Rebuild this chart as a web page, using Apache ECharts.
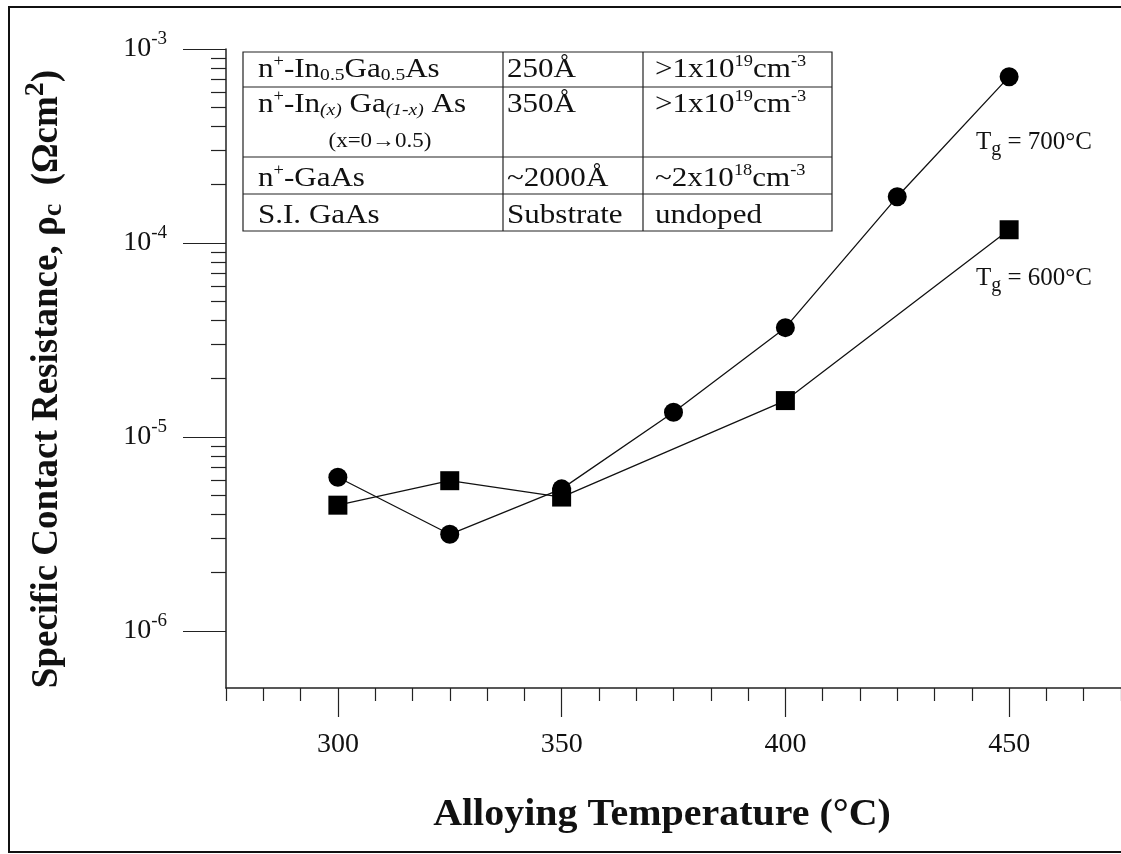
<!DOCTYPE html>
<html>
<head>
<meta charset="utf-8">
<script src="https://cdn.jsdelivr.net/npm/echarts@6/dist/echarts.min.js"></script>
<style>
html,body{margin:0;padding:0;background:#fff;}
#chart{width:1121px;height:854px;}
</style>
</head>
<body>
<div id="chart"></div>
<script>
// alloying temperature (C) vs specific contact resistance (ohm cm2)
var tempTg700 = [300, 325, 350, 375, 400, 425, 450];
var rhoTg700 = [6.2e-6, 3.15e-6, 5.4e-6, 1.34e-5, 3.66e-5, 1.73e-4, 7.2e-4];
var tempTg600 = [300, 325, 350, 400, 450];
var rhoTg600 = [4.45e-6, 5.95e-6, 4.9e-6, 1.54e-5, 1.17e-4];

var xMajorTicks = [300, 350, 400, 450];
var yMajorTicks = [1e-6, 1e-5, 1e-4, 1e-3];

// layer structure table
var layerNames = [
    'n{sup|+}-In{sub|0.5}Ga{sub|0.5}As',
    'n{sup|+}-In{subi|(x)} Ga{subi|(1-x)} As',
    'n{sup|+}-GaAs',
    'S.I. GaAs'
];
var layerThick = ['250Å', '350Å', '~2000Å', 'Substrate'];
var layerDoping = [
    '>1x10{sup|19}cm{sup|-3}',
    '>1x10{sup|19}cm{sup|-3}',
    '~2x10{sup|18}cm{sup|-3}',
    'undoped'
];

var FONT = '"Liberation Serif", "Times New Roman", serif';

// minor ticks (axis decoration only)
var xMinorTicks = [];
for (var i = 0; i <= 24; i++) {
    var v = 275 + i * 50 / 6;
    if (i % 6 !== 3) xMinorTicks.push(Math.round(v * 1000) / 1000);
}
var yMinorTicks = [];
for (var e = -6; e <= -4; e++) {
    for (var k = 2; k <= 9; k++) yMinorTicks.push(k * Math.pow(10, e));
}

function pairs(xs, ys) {
    var out = [];
    for (var i = 0; i < xs.length; i++) out.push([xs[i], ys[i]]);
    return out;
}

var richTbl = {
    sup: {fontSize: 16, fontFamily: FONT, fill: '#111', padding: [0, 0, 17, 0]},
    sub: {fontSize: 17, fontFamily: FONT, fill: '#111', padding: [11, 0, 0, 0]},
    subi: {fontSize: 17, fontFamily: FONT, fontStyle: 'italic', fill: '#111', padding: [11, 0, 0, 0]}
};

// table geometry
var colX = [243, 503, 643, 832];
var rowY = [52, 87, 157, 194, 231];
var textX = [258, 507, 655];
var textY = [70, 105, 179, 216];

var graphics = [];
// outer frame
graphics.push({
    type: 'rect', silent: true,
    shape: {x: 9, y: 7, width: 1130, height: 845},
    style: {fill: null, stroke: '#111', lineWidth: 2}
});
// table lines
graphics.push({
    type: 'rect', silent: true,
    shape: {x: colX[0], y: rowY[0], width: colX[3] - colX[0], height: rowY[4] - rowY[0]},
    style: {fill: '#fff', stroke: '#222', lineWidth: 1.2}
});
for (var r = 1; r < 4; r++) {
    graphics.push({type: 'line', silent: true,
        shape: {x1: colX[0], y1: rowY[r], x2: colX[3], y2: rowY[r]},
        style: {stroke: '#222', lineWidth: 1.2}});
}
for (var c = 1; c < 3; c++) {
    graphics.push({type: 'line', silent: true,
        shape: {x1: colX[c], y1: rowY[0], x2: colX[c], y2: rowY[4]},
        style: {stroke: '#222', lineWidth: 1.2}});
}
var cols = [layerNames, layerThick, layerDoping];
for (var c2 = 0; c2 < 3; c2++) {
    for (var r2 = 0; r2 < 4; r2++) {
        graphics.push({
            type: 'text', silent: true, x: textX[c2], y: textY[r2], scaleX: 1.15,
            style: {text: cols[c2][r2], fontSize: 27, fontFamily: FONT, fill: '#111',
                align: 'left', verticalAlign: 'middle', rich: richTbl}
        });
    }
}
graphics.push({
    type: 'text', silent: true, x: 380, y: 142, scaleX: 1.15,
    style: {text: '(x=0→0.5)', fontSize: 20, fontFamily: FONT, fill: '#111',
        align: 'center', verticalAlign: 'middle'}
});

// series labels
var richTg = {
    sub: {fontSize: 20, fontFamily: FONT, fill: '#111', padding: [15, 0, 0, 0]}
};
graphics.push({
    type: 'text', silent: true, x: 976, y: 142,
    style: {text: 'T{sub|g} = 700°C', fontSize: 25, fontFamily: FONT, fill: '#111',
        align: 'left', verticalAlign: 'middle', rich: richTg}
});
graphics.push({
    type: 'text', silent: true, x: 976, y: 278,
    style: {text: 'T{sub|g} = 600°C', fontSize: 25, fontFamily: FONT, fill: '#111',
        align: 'left', verticalAlign: 'middle', rich: richTg}
});

// axis titles
graphics.push({
    type: 'text', silent: true, x: 662, y: 815, scaleX: 1.08,
    style: {text: 'Alloying Temperature (°C)', fontSize: 37, fontWeight: 'bold',
        fontFamily: FONT, fill: '#111', align: 'center', verticalAlign: 'middle'}
});
graphics.push({
    type: 'text', silent: true, x: 47, y: 379, rotation: Math.PI / 2,
    style: {text: 'Specific Contact Resistance, ρ{sb|c}  (Ωcm{sp|2})', fontSize: 37, fontWeight: 'bold',
        fontFamily: FONT, fill: '#111', align: 'center', verticalAlign: 'middle',
        rich: {
            sb: {fontSize: 28, fontWeight: 'bold', fontFamily: FONT, fill: '#111', padding: [14, 0, 0, 0]},
            sp: {fontSize: 28, fontWeight: 'bold', fontFamily: FONT, fill: '#111', padding: [0, 0, 22, 0]}
        }}
});

var axisColor = '#222';

var chart = echarts.init(document.getElementById('chart'), null, {renderer: 'canvas'});
var option = {
    backgroundColor: '#fff',
    animation: false,
    grid: {left: 226, right: 0, top: 49, bottom: 166, containLabel: false, outerBoundsMode: 'none'},
    xAxis: [{
        type: 'value', min: 275, max: 475, position: 'bottom',
        axisLine: {show: true, onZero: false, lineStyle: {color: axisColor, width: 1.5}},
        axisTick: {show: true, customValues: xMajorTicks, length: 29, lineStyle: {color: axisColor, width: 1.2}},
        axisLabel: {show: true, customValues: xMajorTicks, margin: 43, fontSize: 28, fontFamily: FONT, color: '#111'},
        splitLine: {show: false}
    }, {
        type: 'value', min: 275, max: 475, position: 'bottom',
        axisLine: {show: false, onZero: false},
        axisTick: {show: true, customValues: xMinorTicks, length: 13, lineStyle: {color: axisColor, width: 1.2}},
        axisLabel: {show: false},
        splitLine: {show: false}
    }],
    yAxis: [{
        type: 'log', logBase: 10, min: 5.08e-7, max: 1e-3, position: 'left',
        axisLine: {show: true, onZero: false, lineStyle: {color: axisColor, width: 1.5}},
        axisTick: {show: true, customValues: yMajorTicks, length: 43, lineStyle: {color: axisColor, width: 1.2}},
        axisLabel: {
            show: true, customValues: yMajorTicks, margin: 59,
            formatter: function (v) {
                return '{b|10}{s|' + Math.round(Math.log10(v)) + '}';
            },
            rich: {
                b: {fontSize: 28, fontFamily: FONT, color: '#111'},
                s: {fontSize: 19, fontFamily: FONT, color: '#111', padding: [0, 0, 20, 0]}
            }
        },
        splitLine: {show: false}
    }, {
        type: 'log', logBase: 10, min: 5.08e-7, max: 1e-3, position: 'left',
        axisLine: {show: false, onZero: false},
        axisTick: {show: true, customValues: yMinorTicks, length: 15, lineStyle: {color: axisColor, width: 1.2}},
        axisLabel: {show: false},
        splitLine: {show: false}
    }],
    series: [{
        name: 'Tg = 700°C', type: 'line', xAxisIndex: 0, yAxisIndex: 0,
        data: pairs(tempTg700, rhoTg700),
        symbol: 'circle', symbolSize: 19,
        lineStyle: {color: '#111', width: 1.3},
        itemStyle: {color: '#000'}
    }, {
        name: 'Tg = 600°C', type: 'line', xAxisIndex: 0, yAxisIndex: 0,
        data: pairs(tempTg600, rhoTg600),
        symbol: 'rect', symbolSize: 19,
        lineStyle: {color: '#111', width: 1.3},
        itemStyle: {color: '#000'}
    }],
    graphic: graphics
};
chart.setOption(option);
</script>
</body>
</html>
